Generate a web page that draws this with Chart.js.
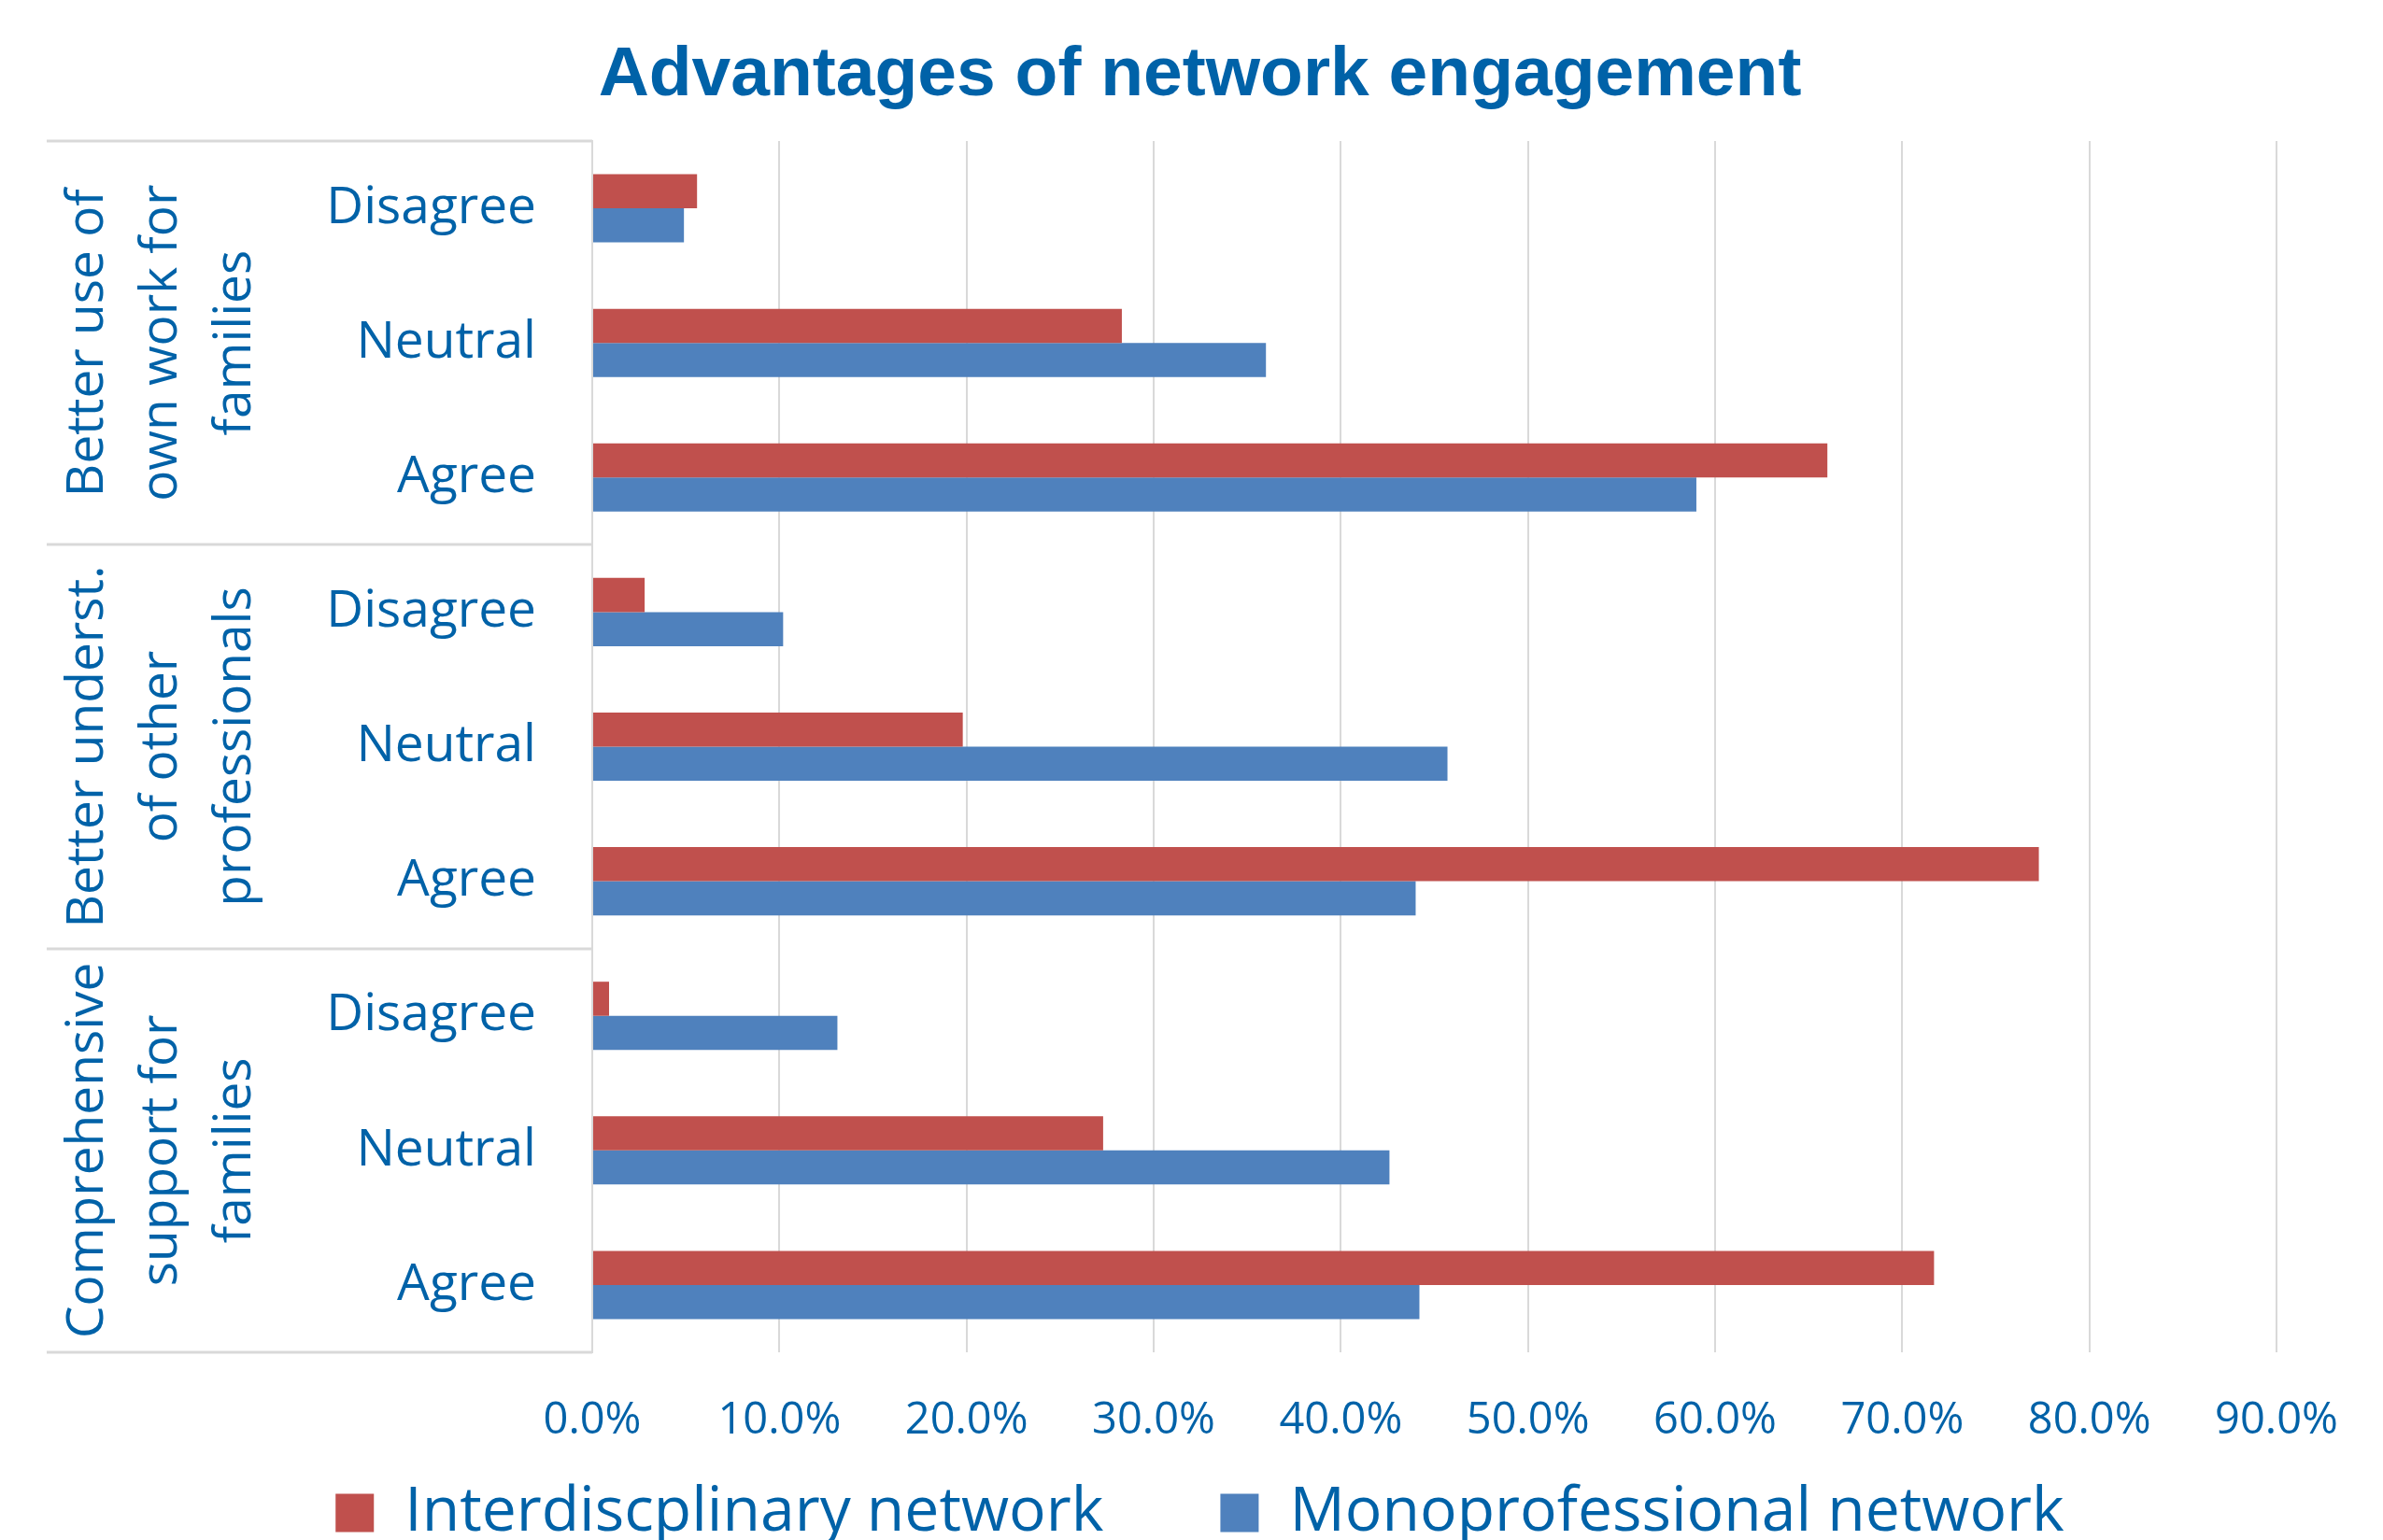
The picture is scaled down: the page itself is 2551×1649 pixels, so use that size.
<!DOCTYPE html>
<html>
<head>
<meta charset="utf-8">
<script src="https://cdn.jsdelivr.net/npm/chart.js@4.4.1/dist/chart.umd.min.js"></script>
<style>
  html, body { margin: 0; padding: 0; background: #fff; }
  #wrap { width: 2551px; height: 1649px; }
</style>
</head>
<body>
<div id="wrap"><canvas id="chart" width="2551" height="1649"></canvas></div>
<script>
// Kategorien (Gruppen mit Zeilenumbruch) und Antworten
const groups = [
  ['Better use of', 'own work for', 'families'],
  ['Better underst.', 'of other', 'professionals'],
  ['Comprehensive', 'support for', 'families']
];
const responses = ['Disagree', 'Neutral', 'Agree'];

// Werte in %
const interdisciplinary = [5.6, 28.3, 66.0, 2.8, 19.8, 77.3, 0.9, 27.3, 71.7];
const monoprofessional = [4.9, 36.0, 59.0, 10.2, 45.7, 44.0, 13.1, 42.6, 44.2];

const xTicks = [0, 10, 20, 30, 40, 50, 60, 70, 80, 90];

const textBlue = '#0062a8';
const gridGray = '#d9d9d9';

const labels = groups.flatMap(() => responses);

// Gruppenbeschriftung links + Trennlinien
const groupLabels = {
  id: 'groupLabels',
  afterDraw(chart) {
    const { ctx, chartArea } = chart;
    const y = chart.scales.y;
    const n = responses.length;
    ctx.save();
    ctx.strokeStyle = gridGray;
    ctx.lineWidth = 3;
    for (let g = 0; g <= groups.length; g++) {
      const yy = Math.round(y.getPixelForValue(g * n - 0.5));
      ctx.beginPath();
      ctx.moveTo(50, yy);
      ctx.lineTo(chartArea.left, yy);
      ctx.stroke();
    }
    ctx.fillStyle = textBlue;
    ctx.font = '55px "Open Sans"';
    ctx.textAlign = 'center';
    ctx.textBaseline = 'middle';
    groups.forEach((lines, g) => {
      const cy = y.getPixelForValue(g * n + (n - 1) / 2);
      lines.forEach((line, i) => {
        ctx.save();
        ctx.translate(94 + i * 79, cy);
        ctx.rotate(-Math.PI / 2);
        ctx.fillText(line, 0, 0);
        ctx.restore();
      });
    });
    ctx.restore();
  }
};

new Chart(document.getElementById('chart'), {
  type: 'bar',
  data: {
    labels,
    datasets: [
      {
        label: 'Interdiscplinary network',
        data: interdisciplinary,
        backgroundColor: '#c0504d',
        borderWidth: 0,
        categoryPercentage: 0.507,
        barPercentage: 1.0
      },
      {
        label: 'Monoprofessional network',
        data: monoprofessional,
        backgroundColor: '#4f81bd',
        borderWidth: 0,
        categoryPercentage: 0.507,
        barPercentage: 1.0
      }
    ]
  },
  options: {
    indexAxis: 'y',
    responsive: false,
    animation: false,
    layout: { padding: { left: 18, right: 0, top: 0, bottom: 0 } },
    plugins: {
      title: {
        display: true,
        text: 'Advantages of network engagement',
        color: textBlue,
        font: { family: '"Liberation Sans", Arial, sans-serif', size: 75, weight: 'bold' },
        padding: { top: 36, bottom: 25 }
      },
      legend: {
        position: 'bottom',
        maxHeight: 187,
        labels: {
          color: textBlue,
          font: { family: '"Open Sans"', size: 66 },
          boxWidth: 41,
          boxHeight: 41,
          padding: 125
        }
      },
      tooltip: { enabled: false }
    },
    scales: {
      x: {
        min: 0,
        max: 90,
        afterBuildTicks: (s) => { s.ticks = xTicks.map(v => ({ value: v })); },
        afterFit: (s) => {
          s.height = 14;
          // Beschriftungen nicht auf die (flache) Achsenbox beschneiden
          s._computeLabelArea = () => undefined;
        },
        grid: { color: gridGray, lineWidth: 2, drawTicks: false },
        border: { display: false },
        ticks: {
          color: textBlue,
          font: { family: '"Open Sans"', size: 47 },
          padding: 45,
          callback: (v) => `${Number(v).toFixed(1)}%`
        }
      },
      y: {
        afterFit: (s) => { s.width = 616; },
        grid: { display: false, drawTicks: false },
        border: { display: true, color: gridGray, width: 2 },
        ticks: {
          color: textBlue,
          font: { family: '"Open Sans"', size: 55 },
          padding: 60
        }
      },
      yR: {
        type: 'linear',
        axis: 'y',
        position: 'right',
        afterFit: (s) => { s.width = 114; },
        grid: { display: false },
        border: { display: false },
        ticks: { display: false }
      }
    }
  },
  plugins: [groupLabels]
});
</script>
</body>
</html>
